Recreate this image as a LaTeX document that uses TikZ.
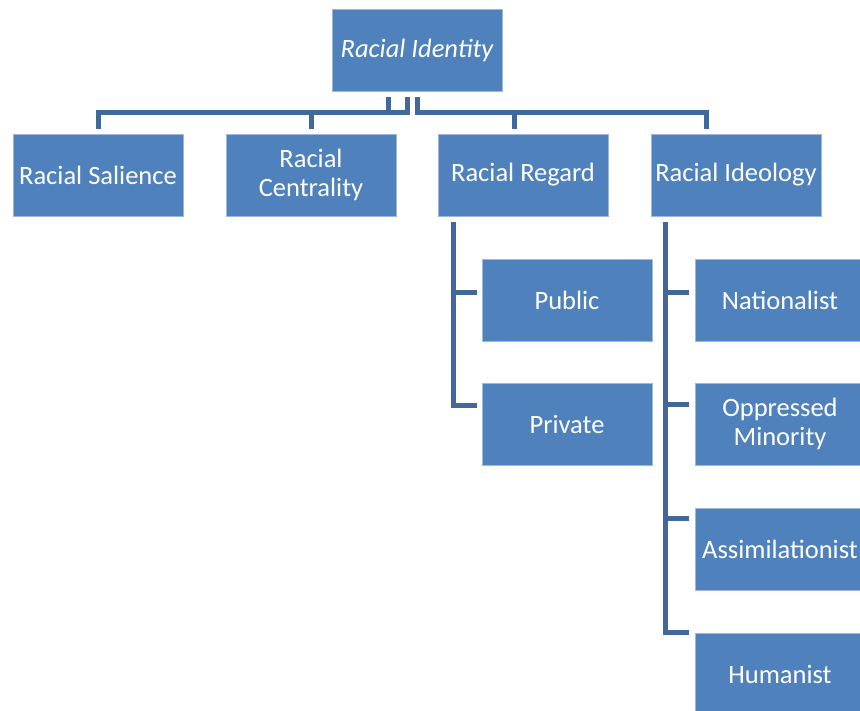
\documentclass[tikz,border=0pt]{standalone}
\usepackage{fontspec}
\setmainfont{Carlito}
\usetikzlibrary{calc}
\definecolor{boxblue}{HTML}{4F81BD}
\definecolor{boxedge}{HTML}{9DB8DC}
\definecolor{connblue}{HTML}{41689A}
\tikzset{
  box/.style={rectangle, fill=boxblue, draw=boxedge, line width=0.8pt,
    minimum width=170pt, minimum height=82pt, inner sep=1pt,
    text=white, align=center, font=\fontsize{26.5}{29}\selectfont},
  conn/.style={draw=connblue, line width=5pt}
}
\begin{document}
\begin{tikzpicture}[x=1pt,y=-1pt]
\useasboundingbox (0,0) rectangle (860,711);
\clip (0,0) rectangle (860,711);
% nodes
\node[box, font=\fontsize{26.5}{29}\selectfont\itshape] (id) at (417,50) {Racial Identity};
\node[box] (sal) at (98,175) {Racial Salience};
\node[box] (cen) at (311,175) {Racial\\Centrality};
\node[box] (reg) at (523,175) {Racial Regard};
\node[box] (ideo) at (736,175) {Racial Ideology};
\node[box] (pub) at (567,300) {Public};
\node[box] (pri) at (567,424) {Private};
\node[box] (nat) at (780,300) {Nationalist};
\node[box] (opp) at (780,424) {Oppressed\\Minority};
\node[box] (ass) at (780,549) {Assimilationist};
\node[box] (hum) at (780,674) {Humanist};
% top-level connectors
\draw[conn] ([xshift=-29pt,yshift=-6pt]id.south) |- ($(sal.north)+(0,-21.5)$) -- ([yshift=5pt]sal.north);
\draw[conn] ([xshift=-10pt,yshift=-6pt]id.south) |- ($(cen.north)+(0,-21.5)$) -- ([yshift=5pt]cen.north);
\draw[conn] ([yshift=-6pt]id.south) |- ($(reg.north)+(-9,-21.5)$) -- ([xshift=-9pt,yshift=5pt]reg.north);
\draw[conn] ([yshift=-6pt]id.south) |- ($(ideo.north)+(-30,-21.5)$) -- ([xshift=-30pt,yshift=5pt]ideo.north);
% regard children
\draw[conn] ([xshift=-70pt,yshift=-6pt]reg.south) |- ([xshift=-5pt,yshift=7.5pt]pub.west);
\draw[conn] ([xshift=-70pt,yshift=-6pt]reg.south) |- ([xshift=-5pt,yshift=18.5pt]pri.west);
% ideology children
\draw[conn] ([xshift=-70.5pt,yshift=-6pt]ideo.south) |- ([xshift=-6pt,yshift=7.5pt]nat.west);
\draw[conn] ([xshift=-70.5pt,yshift=-6pt]ideo.south) |- ([xshift=-6pt,yshift=19pt]opp.west);
\draw[conn] ([xshift=-70.5pt,yshift=-6pt]ideo.south) |- ([xshift=-6pt,yshift=31pt]ass.west);
\draw[conn] ([xshift=-70.5pt,yshift=-6pt]ideo.south) |- ([xshift=-6pt,yshift=42pt]hum.west);
\end{tikzpicture}
\end{document}
